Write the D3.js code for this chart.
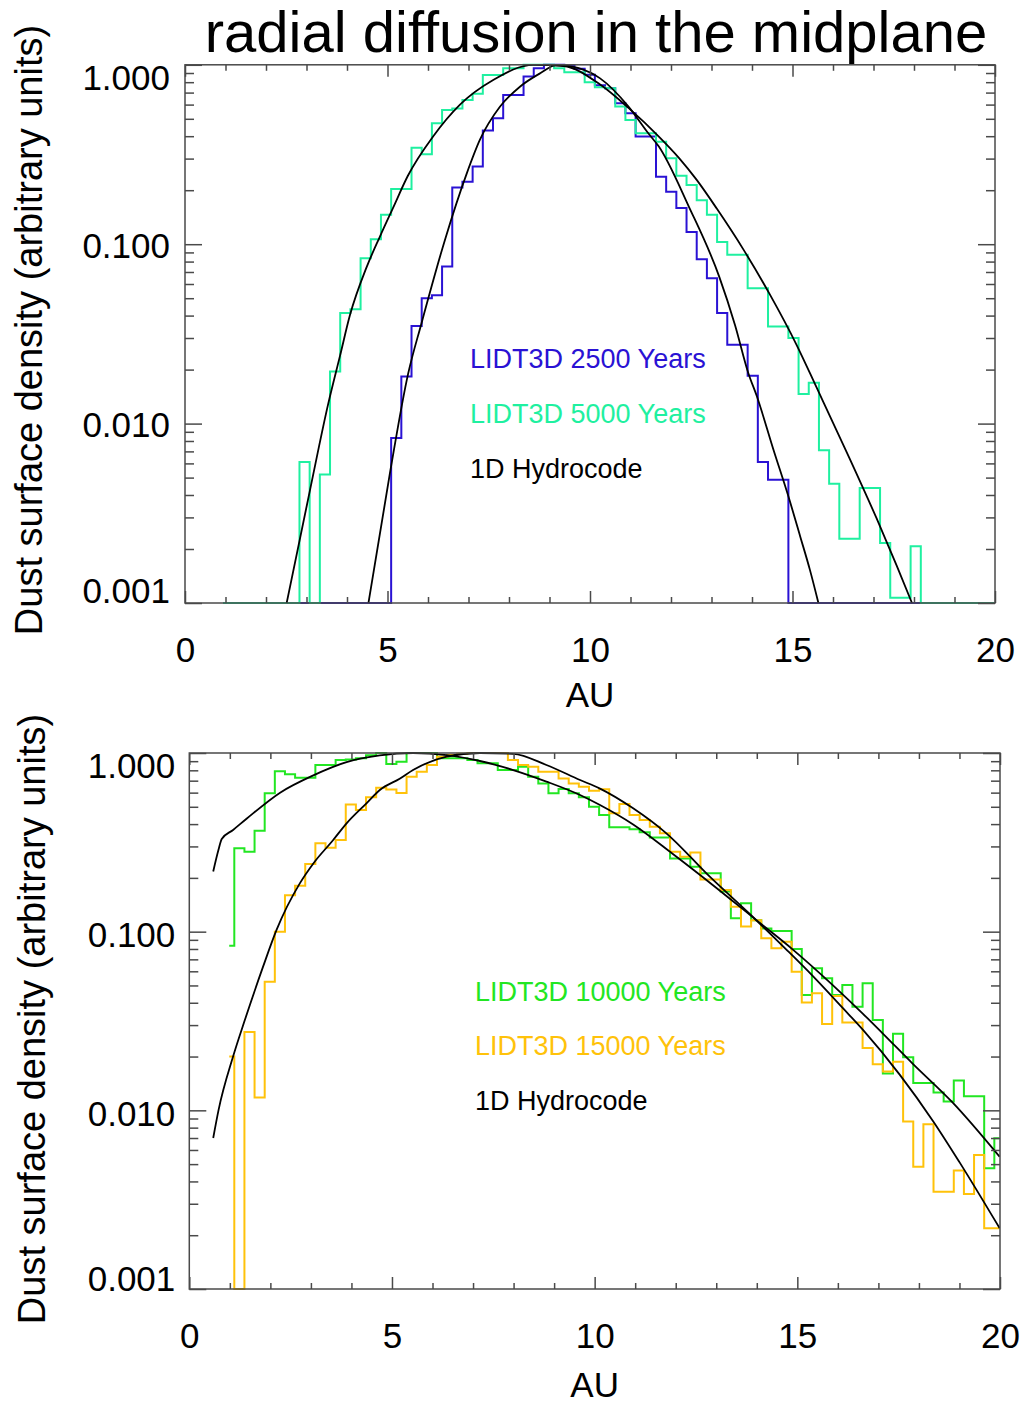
<!DOCTYPE html>
<html><head><meta charset="utf-8">
<script src="https://cdn.jsdelivr.net/npm/d3@7"></script>
<style>body{margin:0;background:#fff}svg{display:block}</style>
</head><body>
<svg id="chart" width="1023" height="1403"></svg>
<script>
// ---------------- DATA ----------------
const xMajorTicks = [0, 5, 10, 15, 20];
const xMinorTicks = [1,2,3,4,6,7,8,9,11,12,13,14,16,17,18,19];
const yMajorTicks = [0.001, 0.01, 0.1, 1];
const yMinorTicks = [0.002,0.003,0.004,0.005,0.006,0.007,0.008,0.009,0.02,0.03,0.04,0.05,0.06,0.07,0.08,0.09,0.2,0.3,0.4,0.5,0.6,0.7,0.8,0.9];

// top panel histogram binning (AU): left edge of bin 0 and bin width; series start at bin 3
const topBinStart = 0.06, topBinWidth = 0.2515, topFirstBin = 3;
const lidt2500 = [0,0,0,0,0,0,0,0,0,0,0,0,0,0,0,0,0,
  0.0083,0.0183,0.035,0.05,0.052,0.075,0.207,0.223,0.271,0.43,0.503,0.679,0.679,0.86,0.956,1.0,1.0,0.99,0.95,0.88,0.77,
  0.74,0.61,0.537,0.398,0.398,0.238,0.196,0.159,0.117,0.0824,0.0646,0.0413,0.0275,0.0275,0.0185,0.0061,0.00486,0.00486,
  0,0,0,0,0,0,0,0,0,0,0,0,0,0,0,0,0,0,0,0,0];
const lidt5000 = [0,0,0,0,0,0,0,0,0.0061,0,0.0052,0.0195,0.0413,0.0434,0.0836,0.1066,0.146,0.203,0.203,0.345,0.317,0.472,
  0.56,0.57,0.637,0.69,0.877,0.877,0.956,0.956,1.0,1.0,1.0,0.956,0.91,0.91,0.80,0.75,0.74,0.585,0.493,0.415,0.415,0.373,
  0.301,0.241,0.214,0.176,0.146,0.103,0.0872,0.0872,0.0568,0.0568,0.0348,0.0348,0.030,0.0146,0.0169,0.0071,0.00462,
  0.00228,0.00228,0.00437,0.00437,0.00216,0.00107,0.00107,0.00207,0,0,0,0,0,0,0,0];
const hydro2500 = [[4.53,0.001],[5.06,0.0053],[5.51,0.019],[5.84,0.0363],[6.42,0.106],[6.96,0.249],[7.28,0.381],[7.78,0.585],
  [8.27,0.755],[8.77,0.897],[9.18,1.0],[9.7,0.96],[10.25,0.84],[10.95,0.585],[11.44,0.415],[11.70,0.35],[12.44,0.162],
  [13.19,0.066],[13.58,0.0355],[13.91,0.0191],[14.12,0.0142],[14.53,0.00715],[14.90,0.00392],[15.19,0.00235],[15.43,0.00153],[15.64,0.001]];
const hydro5000 = [[2.51,0.001],[3.09,0.0043],[3.54,0.013],[3.83,0.024],[4.07,0.04],[4.49,0.075],[4.81,0.11],[5.14,0.16],
  [5.5,0.24],[6.13,0.40],[6.79,0.60],[7.61,0.823],[8.6,1.0],[9.34,0.985],[10.25,0.776],[10.95,0.575],[11.70,0.398],[12.20,0.302],
  [12.63,0.229],[13.13,0.158],[13.79,0.0933],[14.44,0.0525],[15.10,0.0275],[15.60,0.0158],[16.34,0.00692],
  [17.08,0.00295],[17.57,0.00162],[17.95,0.001]];

// bottom panel histogram binning
const botBinStart = 0.11, botBinWidth = 0.25, botFirstBin = 3;
const lidt10000 = [0.0835,0.293,0.28,0.367,0.595,0.79,0.76,0.727,0.727,0.857,0.857,0.914,0.92,0.934,0.97,1.0,0.868,0.894,
  1.0,1.0,1.0,0.934,0.934,0.934,0.914,0.875,0.875,0.803,0.803,0.838,0.737,0.676,0.595,0.628,0.595,0.565,0.5,0.45,0.384,
  0.384,0.374,0.36,0.337,0.337,0.257,0.257,0.231,0.212,0.212,0.168,0.119,0.144,0.116,0.104,0.101,0.101,0.080,0.0442,
  0.0624,0.0548,0.0442,0.0503,0.038,0.0514,0.032,0.0161,0.0268,0.0198,0.0142,0.0142,0.01257,0.0112,0.0147,0.012,0.012,
  0.00474,0.00698];
const lidt15000 = [0.02,0,0.0274,0.0118,0.0525,0.1,0.16,0.181,0.239,0.313,0.295,0.326,0.515,0.48,0.565,0.64,0.625,0.597,
  0.737,0.786,0.857,0.953,0.975,0.99,1.0,1.0,1.0,1.0,0.914,0.857,0.838,0.786,0.786,0.72,0.676,0.648,0.615,0.627,0.46,0.518,
  0.45,0.422,0.387,0.355,0.28,0.263,0.277,0.196,0.196,0.171,0.138,0.107,0.116,0.0918,0.0807,0.0879,0.0597,0.0401,0.0452,
  0.0304,0.0437,0.031,0.031,0.0223,0.0181,0.0165,0.0187,0.00865,0.00484,0.00836,0.0035,0.0035,0.0046,0.0034,0.00563,
  0.00219,0.00219];
const hydro10000 = [[0.59,0.217],[0.72,0.287],[0.8,0.33],[1.08,0.371],[1.42,0.43],[2.24,0.6],[3.06,0.75],
  [3.88,0.89],[4.70,0.97],[5.52,1.0],[6.35,0.973],[7.17,0.902],[7.99,0.803],[8.81,0.692],[9.64,0.582],[10.12,0.513],
  [10.95,0.398],[11.93,0.272],[12.92,0.182],[13.99,0.116],[14.89,0.0794],[15.88,0.0501],[16.62,0.0347],[17.11,0.0269],
  [17.85,0.0182],[18.84,0.011],[19.99,0.0055]];
const hydro15000 = [[0.59,0.007],[0.72,0.01],[1.08,0.02],[1.37,0.032],[1.82,0.0637],[2.15,0.102],[2.73,0.187],[3.06,0.241],
  [3.55,0.326],[3.88,0.404],[4.37,0.523],[4.70,0.621],[5.20,0.72],[5.52,0.803],[6.35,0.953],[7.17,1.0],[7.99,0.99],
  [8.81,0.857],[9.64,0.706],[10.12,0.634],[10.95,0.49],[11.77,0.355],[12.84,0.203],[13.82,0.126],[14.73,0.0794],
  [15.39,0.0562],[16.13,0.0372],[16.62,0.0282],[17.53,0.0158],[18.35,0.0087],[19.0,0.00513],[19.99,0.00219]];

const legendTop = ["LIDT3D 2500 Years", "LIDT3D 5000 Years", "1D Hydrocode"];
const legendBottom = ["LIDT3D 10000 Years", "LIDT3D 15000 Years", "1D Hydrocode"];

// ---------------- DRAW ----------------
const FONT = '"Liberation Sans", Arial, Helvetica, sans-serif';
const AXIS = "#4a4a4a";
const svg = d3.select("#chart");
svg.append("rect").attr("width",1023).attr("height",1403).attr("fill","#fff");

function drawPanel(cfg) {
  const b = cfg.box;
  const x = d3.scaleLinear().domain([0, 20]).range([b.x0, b.x1]);
  const y = d3.scaleLog().domain([0.001, 1]).range([b.y1, b.y0]);
  const g = svg.append("g");
  const clipId = cfg.id + "clip";
  svg.append("clipPath").attr("id", clipId).append("rect")
    .attr("x", b.x0).attr("y", b.y0 - 2).attr("width", b.x1 - b.x0).attr("height", b.y1 - b.y0 + 4);
  const yc = v => y(Math.max(v, 0.001));

  const step = d3.line().x(d => x(d[0])).y(d => yc(d[1])).curve(d3.curveStep);
  cfg.hists.forEach(h => {
    const pts = h.values.map((v, i) => [h.start + (h.first + i + 0.5) * h.width, v]);
    g.append("path").attr("d", step(pts)).attr("fill", "none").attr("stroke", h.color)
      .attr("stroke-width", 2).attr("clip-path", `url(#${clipId})`);
  });
  const smooth = d3.line().x(d => x(d[0])).y(d => yc(d[1])).curve(d3.curveMonotoneX);
  cfg.curves.forEach(c => {
    g.append("path").attr("d", smooth(c)).attr("fill", "none").attr("stroke", "#000")
      .attr("stroke-width", 1.8).attr("clip-path", `url(#${clipId})`);
  });

  const style = sel => {
    sel.select(".domain").remove();
    sel.selectAll(".tick line").attr("stroke", AXIS).attr("stroke-width", 1.5);
    sel.selectAll(".tick text").attr("fill", "#000").attr("font-family", FONT).attr("font-size", 35);
    sel.attr("font-family", FONT).attr("font-size", 35);
  };
  // bottom
  g.append("g").attr("transform", `translate(0,${b.y1})`)
    .call(d3.axisBottom(x).tickValues(xMajorTicks).tickSizeInner(-12).tickSizeOuter(0).tickPadding(34).tickFormat(d3.format("d"))).call(style);
  g.append("g").attr("transform", `translate(0,${b.y1})`)
    .call(d3.axisBottom(x).tickValues(xMinorTicks).tickSizeInner(-6).tickSizeOuter(0).tickFormat("")).call(style);
  // top
  g.append("g").attr("transform", `translate(0,${b.y0})`)
    .call(d3.axisTop(x).tickValues(xMajorTicks).tickSizeInner(-12).tickSizeOuter(0).tickFormat("")).call(style);
  g.append("g").attr("transform", `translate(0,${b.y0})`)
    .call(d3.axisTop(x).tickValues(xMinorTicks).tickSizeInner(-6).tickSizeOuter(0).tickFormat("")).call(style);
  // left
  const left = g.append("g").attr("transform", `translate(${b.x0},0)`)
    .call(d3.axisLeft(y).tickValues(yMajorTicks).tickSizeInner(-17).tickSizeOuter(0).tickPadding(b.labelPad).tickFormat(d3.format(".3f"))).call(style);
  left.selectAll(".tick text").attr("transform", d => `translate(0,${d === 1 ? b.topShift : d === 0.001 ? b.botShift : b.midShift})`);
  g.append("g").attr("transform", `translate(${b.x0},0)`)
    .call(d3.axisLeft(y).tickValues(yMinorTicks).tickSizeInner(-9).tickSizeOuter(0).tickFormat("")).call(style);
  // right
  g.append("g").attr("transform", `translate(${b.x1},0)`)
    .call(d3.axisRight(y).tickValues(yMajorTicks).tickSizeInner(-17).tickSizeOuter(0).tickFormat("")).call(style);
  g.append("g").attr("transform", `translate(${b.x1},0)`)
    .call(d3.axisRight(y).tickValues(yMinorTicks).tickSizeInner(-9).tickSizeOuter(0).tickFormat("")).call(style);
  // frame
  g.append("rect").attr("x", b.x0).attr("y", b.y0).attr("width", b.x1 - b.x0).attr("height", b.y1 - b.y0)
    .attr("fill", "none").attr("stroke", AXIS).attr("stroke-width", 1.5);

  // axis titles
  g.append("text").attr("x", (b.x0 + b.x1) / 2).attr("y", b.auY).attr("text-anchor", "middle")
    .attr("font-family", FONT).attr("font-size", 35).attr("fill", "#000").text("AU");
  g.append("text").attr("transform", `translate(${b.ylabX},${b.ylabY}) rotate(-90)`).attr("text-anchor", "middle")
    .attr("font-family", FONT).attr("font-size", 38).attr("fill", "#000").text("Dust surface density (arbitrary units)");

  // legend
  cfg.legend.forEach((t, i) => {
    g.append("text").attr("x", cfg.legX).attr("y", cfg.legY[i]).attr("font-family", FONT)
      .attr("font-size", 27).attr("fill", cfg.legColors[i]).text(t);
  });
}

const BLUE = "#2a12d4", TEAL = "#1ff0a0", GREEN = "#22e622", ORANGE = "#ffc20a";

svg.append("text").attr("x", 596).attr("y", 52).attr("text-anchor", "middle")
  .attr("font-family", FONT).attr("font-size", 58).attr("fill", "#000").text("radial diffusion in the midplane");

drawPanel({
  id: "top",
  box: {x0: 185, x1: 995, y0: 64.8, y1: 603, labelPad: 15, topShift: 13, botShift: -12, midShift: 2, auY: 707, ylabX: 42, ylabY: 330},
  hists: [
    {values: lidt2500, start: topBinStart, width: topBinWidth, first: topFirstBin, color: BLUE},
    {values: lidt5000, start: topBinStart, width: topBinWidth, first: topFirstBin, color: TEAL}
  ],
  curves: [hydro2500, hydro5000],
  legend: legendTop, legX: 470, legY: [368, 423, 478], legColors: [BLUE, TEAL, "#000"]
});

drawPanel({
  id: "bot",
  box: {x0: 189.3, x1: 1000, y0: 753, y1: 1289, labelPad: 14, topShift: 13, botShift: -10, midShift: 4, auY: 1397, ylabX: 45, ylabY: 1019},
  hists: [
    {values: lidt10000, start: botBinStart, width: botBinWidth, first: botFirstBin, color: GREEN},
    {values: lidt15000, start: botBinStart, width: botBinWidth, first: botFirstBin, color: ORANGE}
  ],
  curves: [hydro10000, hydro15000],
  legend: legendBottom, legX: 475, legY: [1001, 1055, 1110], legColors: [GREEN, ORANGE, "#000"]
});
</script>
</body></html>
